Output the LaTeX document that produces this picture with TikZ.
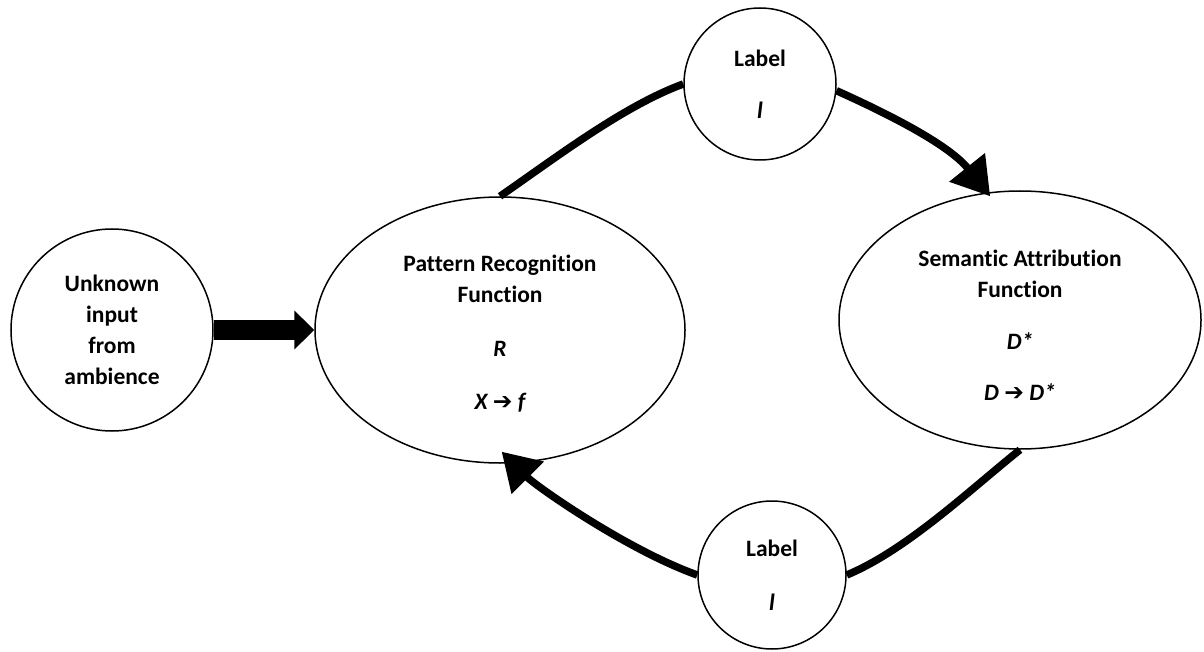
\documentclass[tikz,border=0pt]{standalone}
\usepackage{fontspec}
\setmainfont{Carlito}[Ligatures=NoCommon]
\newfontfamily\symfont{DejaVu Sans}
\usetikzlibrary{arrows.meta,shapes.geometric,calc}
\begin{document}
\begin{tikzpicture}[x=1pt,y=-1pt,
  txt/.style={font=\fontsize{23.5}{31}\selectfont\bfseries, align=center, inner sep=0pt},
  bubble/.style={draw, line width=1.5pt, circle, txt},
  oval/.style={draw, line width=1.5pt, ellipse, inner sep=0pt},
  link/.style={line width=7.5pt},
  tipped/.style={link, -{Triangle[length=37pt,width=44pt]}}
]
\useasboundingbox (0,0) rectangle (1204,652);
\node[bubble, minimum size=202pt] (src) at (112,330) {Unknown\\input\\from\\ambience};
\node[oval, minimum width=370pt, minimum height=266pt] (pat) at (500,330) {};
\node[txt] (patText) at (500,334)
  {Pattern Recognition\\Function\\[23pt]{\itshape R}\\[22pt]{\itshape X {\symfont\bfseries ➔} f}};
\node[oval, minimum width=362pt, minimum height=258pt] (sem) at (1020,320) {};
\node[txt] (semText) at (1020,325)
  {Semantic Attribution\\Function\\[21pt]{\itshape D*}\\[20pt]{\itshape D {\symfont\bfseries ➔} D*}};
\node[bubble, minimum size=152pt] (top) at (760,84) {Label\\[21pt]{\itshape l}};
\node[bubble, minimum size=148pt] (bot) at (772,575) {Label\\[23pt]{\itshape l}};

\draw[line width=20pt, -{Triangle[length=20pt,width=38pt]}] (src.east) -- (pat.west);
\draw[link] (pat.north) .. controls +(55,-38) and +(-60,22) .. (top.west);
\draw[tipped] (top.-5) .. controls +(60,27) and +(-40,-50) .. ($(sem.104)+(2,4)$);
\draw[link] (sem.south) .. controls +(-50,40) and +(60,-25) .. (bot.east);
\draw[tipped] (bot.west) .. controls +(-70,-25) and +(35,35) .. ($(pat.-88)+(-3,-12)$);
\end{tikzpicture}
\end{document}
